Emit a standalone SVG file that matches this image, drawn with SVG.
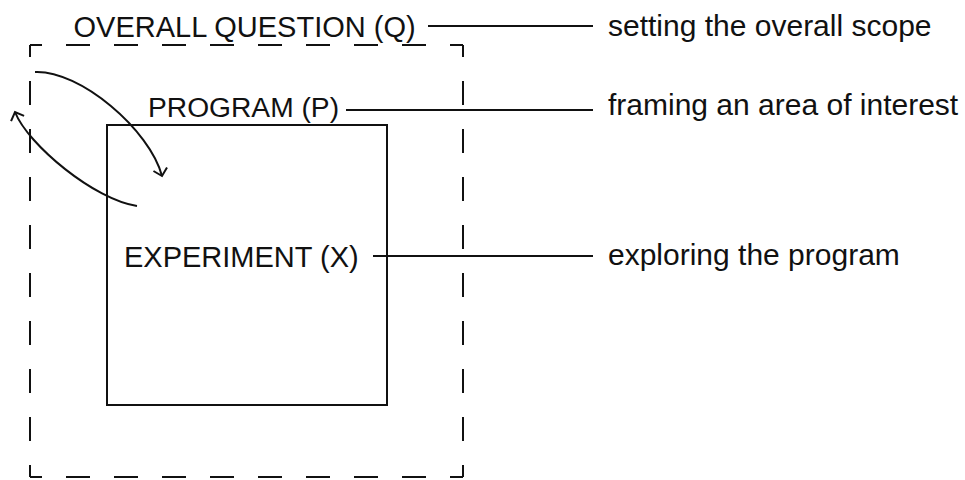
<svg xmlns="http://www.w3.org/2000/svg" width="965" height="480" viewBox="0 0 965 480">
  <style>
    .dash { stroke: #111; stroke-width: 2; fill: none; stroke-dasharray: 24 24; stroke-dashoffset: 12; }
    .box { stroke: #111; stroke-width: 2; fill: none; }
    .line { stroke: #111; stroke-width: 2; fill: none; }
    .cap { font-family: "Liberation Sans", Arial, sans-serif; font-size: 29px; fill: #111; }
    .desc { font-family: "Liberation Sans", Arial, sans-serif; font-size: 30px; fill: #111; }
  </style>
  <defs>
    <marker id="arr" markerUnits="userSpaceOnUse" markerWidth="14" markerHeight="18" viewBox="0 0 14 18" refX="10" refY="9" orient="auto">
      <path d="M3,2 L10,9 L3,16" fill="none" stroke="#111" stroke-width="2"/>
    </marker>
  </defs>
  <rect width="965" height="480" fill="#fff"/>

  <g id="overall-question">
    <line class="dash" x1="30" y1="45" x2="463" y2="45"/>
    <line class="dash" x1="463" y1="45" x2="463" y2="477"/>
    <line class="dash" x1="30" y1="477" x2="463" y2="477"/>
    <line class="dash" x1="30" y1="45" x2="30" y2="477"/>
    <text class="cap" x="73.5" y="37">OVERALL QUESTION (Q)</text>
  </g>

  <g id="program">
    <rect class="box" x="107" y="125" width="280" height="280"/>
    <text class="cap" x="148" y="117" style="font-size:28.2px">PROGRAM (P)</text>
  </g>

  <g id="experiment">
    <text class="cap" x="124" y="267">EXPERIMENT (X)</text>
  </g>

  <g id="desc-q">
    <text class="desc" x="608" y="36">setting the overall scope</text>
  </g>
  <g id="desc-p">
    <text class="desc" x="608" y="115">framing an area of interest</text>
  </g>
  <g id="desc-x">
    <text class="desc" x="608" y="265">exploring the program</text>
  </g>

  <g id="connectors">
    <line class="line" x1="428" y1="26" x2="593" y2="26"/>
    <line class="line" x1="346" y1="110" x2="593" y2="110"/>
    <line class="line" x1="373" y1="256" x2="593" y2="256"/>
    <path class="line" d="M35,72 C80,70 150,130 162,176" marker-end="url(#arr)"/>
    <path class="line" d="M137,206 C95,200 28,145 15,112" marker-end="url(#arr)"/>
  </g>
</svg>
